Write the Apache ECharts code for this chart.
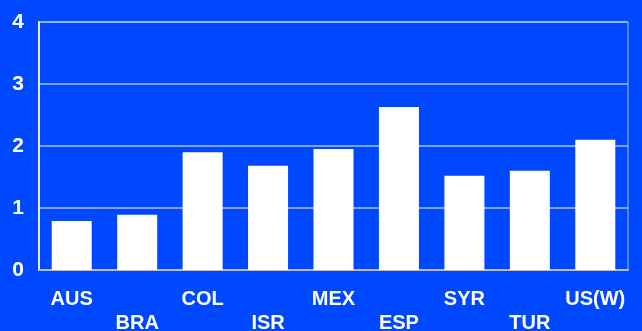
<!DOCTYPE html>
<html>
<head>
<meta charset="utf-8">
<script src="https://cdn.jsdelivr.net/npm/echarts@6/dist/echarts.min.js"></script>
<style>
  html, body { margin: 0; padding: 0; background: #0048FF; }
  #chart { width: 642px; height: 331px; }
</style>
</head>
<body>
<div id="chart"></div>
<script>
// Country codes along the category axis
const countries = ['AUS', 'BRA', 'COL', 'ISR', 'MEX', 'ESP', 'SYR', 'TUR', 'US(W)'];
// One value per country
const values = [0.79, 0.89, 1.90, 1.68, 1.95, 2.63, 1.52, 1.60, 2.10];
// Value axis ticks
const yTicks = [0, 1, 2, 3, 4];

const chart = echarts.init(document.getElementById('chart'), null, { renderer: 'canvas' });

chart.setOption({
  backgroundColor: '#0048FF',
  animation: false,
  grid: {
    left: 39, right: 14, top: 22, bottom: 61,
    containLabel: false,
    outerBoundsMode: 'none',
    show: true,
    borderColor: '#A8BEFF',
    borderWidth: 1
  },
  xAxis: {
    type: 'category',
    data: countries,
    axisLine: { show: true, lineStyle: { color: '#B8BCCC', width: 2 } },
    axisTick: { show: false },
    axisLabel: {
      interval: 0,
      margin: 17,
      color: '#FFFFFF',
      fontFamily: 'Liberation Sans, Arial, sans-serif',
      fontWeight: 'bold',
      fontSize: 20,
      lineHeight: 24,
      verticalAlign: 'top',
      // alternate countries drop to a second row
      formatter: (v, i) => (i % 2 ? '\n' + v : v)
    }
  },
  yAxis: {
    type: 'value',
    min: yTicks[0],
    max: yTicks[yTicks.length - 1],
    interval: 1,
    axisLine: { show: true, lineStyle: { color: '#E6ECFF', width: 2 } },
    axisTick: { show: false },
    splitLine: { show: true, lineStyle: { color: '#A8BEFF', width: 1.5 } },
    axisLabel: {
      margin: 15,
      padding: [4, 0, 0, 0],
      color: '#FFFFFF',
      fontFamily: 'Liberation Sans, Arial, sans-serif',
      fontWeight: 'bold',
      fontSize: 21
    }
  },
  series: [{
    type: 'bar',
    data: values,
    barWidth: 40,
    itemStyle: { color: '#FFFFFF' }
  }]
});
</script>
</body>
</html>
